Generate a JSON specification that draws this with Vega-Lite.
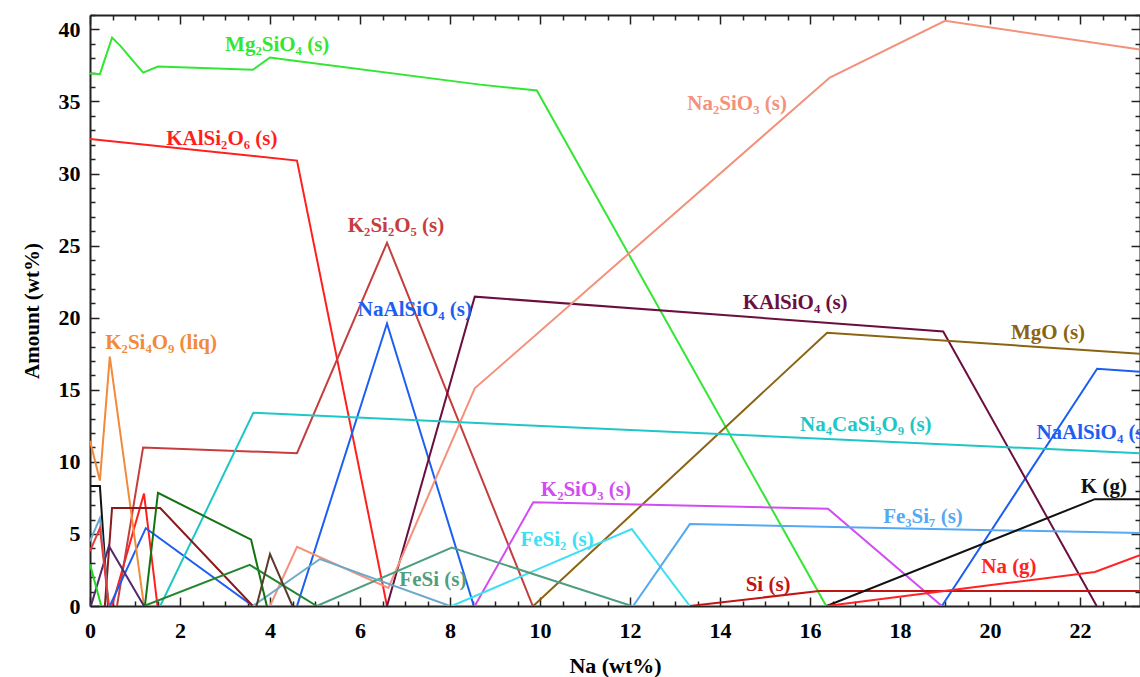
{
  "$schema": "https://vega.github.io/schema/vega-lite/v6.json",
  "width": 1050,
  "height": 591,
  "autosize": {"type": "none"},
  "padding": {"left": 90, "top": 15, "right": 0, "bottom": 71},
  "background": "white",
  "config": {"view": {"stroke": null}, "font": "Liberation Serif"},
  "datasets": {
    "lines": [
      {"s":"Mg2SiO4 (s)","g":"m1","x":0,"y":36.94},{"s":"Mg2SiO4 (s)","g":"m1","x":0.22,"y":36.9},{"s":"Mg2SiO4 (s)","g":"m1","x":0.49,"y":39.43},{"s":"Mg2SiO4 (s)","g":"m1","x":0.67,"y":38.88},{"s":"Mg2SiO4 (s)","g":"m1","x":1.18,"y":37.0},{"s":"Mg2SiO4 (s)","g":"m1","x":1.51,"y":37.42},{"s":"Mg2SiO4 (s)","g":"m1","x":3.62,"y":37.2},{"s":"Mg2SiO4 (s)","g":"m1","x":4.0,"y":38.05},{"s":"Mg2SiO4 (s)","g":"m1","x":4.5,"y":37.84},{"s":"Mg2SiO4 (s)","g":"m1","x":8.67,"y":36.17},{"s":"Mg2SiO4 (s)","g":"m1","x":9.93,"y":35.76},{"s":"Mg2SiO4 (s)","g":"m1","x":16.36,"y":0},
      {"s":"KAlSi2O6 (s)","g":"k1","x":0,"y":32.4},{"s":"KAlSi2O6 (s)","g":"k1","x":4.6,"y":30.9},{"s":"KAlSi2O6 (s)","g":"k1","x":6.6,"y":0},
      {"s":"KAlSi2O6 (s)","g":"k2","x":0.49,"y":0},{"s":"KAlSi2O6 (s)","g":"k2","x":1.2,"y":7.8},{"s":"KAlSi2O6 (s)","g":"k2","x":1.5,"y":0},
      {"s":"K2Si2O5 (s)","g":"k2s","x":0.6,"y":0},{"s":"K2Si2O5 (s)","g":"k2s","x":1.18,"y":11.0},{"s":"K2Si2O5 (s)","g":"k2s","x":4.6,"y":10.6},{"s":"K2Si2O5 (s)","g":"k2s","x":6.6,"y":25.2},{"s":"K2Si2O5 (s)","g":"k2s","x":9.84,"y":0},
      {"s":"NaAlSiO4 (s)","g":"n1","x":0.44,"y":0},{"s":"NaAlSiO4 (s)","g":"n1","x":1.24,"y":5.4},{"s":"NaAlSiO4 (s)","g":"n1","x":3.62,"y":0},
      {"s":"NaAlSiO4 (s)","g":"n2","x":4.6,"y":0},{"s":"NaAlSiO4 (s)","g":"n2","x":6.6,"y":19.6},{"s":"NaAlSiO4 (s)","g":"n2","x":8.53,"y":0},
      {"s":"NaAlSiO4 (s)","g":"n3","x":18.93,"y":0},{"s":"NaAlSiO4 (s)","g":"n3","x":22.38,"y":16.46},{"s":"NaAlSiO4 (s)","g":"n3","x":23.33,"y":16.25},
      {"s":"K2Si4O9 (liq)","g":"o1","x":0,"y":11.46},{"s":"K2Si4O9 (liq)","g":"o1","x":0.22,"y":8.7},{"s":"K2Si4O9 (liq)","g":"o1","x":0.44,"y":17.3},{"s":"K2Si4O9 (liq)","g":"o1","x":1.2,"y":0},
      {"s":"KAlSiO4 (s)","g":"ka","x":6.6,"y":0},{"s":"KAlSiO4 (s)","g":"ka","x":8.55,"y":21.46},{"s":"KAlSiO4 (s)","g":"ka","x":18.96,"y":19.05},{"s":"KAlSiO4 (s)","g":"ka","x":22.37,"y":0},
      {"s":"Na2SiO3 (s)","g":"na","x":4.0,"y":0},{"s":"Na2SiO3 (s)","g":"na","x":4.6,"y":4.1},{"s":"Na2SiO3 (s)","g":"na","x":6.63,"y":1.25},{"s":"Na2SiO3 (s)","g":"na","x":8.55,"y":15.1},{"s":"Na2SiO3 (s)","g":"na","x":16.44,"y":36.66},{"s":"Na2SiO3 (s)","g":"na","x":19.0,"y":40.6},{"s":"Na2SiO3 (s)","g":"na","x":23.33,"y":38.6},
      {"s":"MgO (s)","g":"mg","x":9.85,"y":0},{"s":"MgO (s)","g":"mg","x":16.38,"y":18.96},{"s":"MgO (s)","g":"mg","x":23.33,"y":17.5},
      {"s":"Na4CaSi3O9 (s)","g":"nc","x":1.56,"y":0},{"s":"Na4CaSi3O9 (s)","g":"nc","x":3.63,"y":13.4},{"s":"Na4CaSi3O9 (s)","g":"nc","x":23.33,"y":10.6},
      {"s":"K2SiO3 (s)","g":"ks","x":8.55,"y":0},{"s":"K2SiO3 (s)","g":"ks","x":9.85,"y":7.2},{"s":"K2SiO3 (s)","g":"ks","x":16.4,"y":6.75},{"s":"K2SiO3 (s)","g":"ks","x":18.93,"y":0},
      {"s":"FeSi2 (s)","g":"f2","x":8.04,"y":0},{"s":"FeSi2 (s)","g":"f2","x":12.04,"y":5.34},{"s":"FeSi2 (s)","g":"f2","x":13.33,"y":0},
      {"s":"FeSi (s)","g":"f1","x":5.04,"y":0},{"s":"FeSi (s)","g":"f1","x":8.04,"y":4.05},{"s":"FeSi (s)","g":"f1","x":12.04,"y":0},
      {"s":"Fe3Si7 (s)","g":"f3","x":12.07,"y":0},{"s":"Fe3Si7 (s)","g":"f3","x":13.33,"y":5.68},{"s":"Fe3Si7 (s)","g":"f3","x":23.33,"y":5.06},
      {"s":"Si (s)","g":"si","x":13.33,"y":0},{"s":"Si (s)","g":"si","x":16.2,"y":1.04},{"s":"Si (s)","g":"si","x":23.33,"y":1.04},
      {"s":"K (g)","g":"kg1","x":16.37,"y":0},{"s":"K (g)","g":"kg1","x":22.33,"y":7.41},{"s":"K (g)","g":"kg1","x":23.33,"y":7.41},
      {"s":"K (g)","g":"kg2","x":0,"y":8.33},{"s":"K (g)","g":"kg2","x":0.22,"y":8.33},{"s":"K (g)","g":"kg2","x":0.4,"y":0},
      {"s":"Na (g)","g":"ng","x":16.37,"y":0},{"s":"Na (g)","g":"ng","x":20.2,"y":1.52},{"s":"Na (g)","g":"ng","x":22.33,"y":2.36},{"s":"Na (g)","g":"ng","x":23.33,"y":3.53},
      {"s":"A","g":"a1","x":0.33,"y":0},{"s":"A","g":"a1","x":0.49,"y":6.8},{"s":"A","g":"a1","x":1.56,"y":6.8},{"s":"A","g":"a1","x":3.62,"y":0},
      {"s":"B","g":"b1","x":0,"y":4.5},{"s":"B","g":"b1","x":0.22,"y":6.1},{"s":"B","g":"b1","x":0.42,"y":0},
      {"s":"B","g":"b2","x":3.62,"y":0},{"s":"B","g":"b2","x":5.11,"y":3.26},{"s":"B","g":"b2","x":8.0,"y":0},
      {"s":"C","g":"c1","x":1.22,"y":0},{"s":"C","g":"c1","x":1.51,"y":7.85},{"s":"C","g":"c1","x":3.58,"y":4.6},{"s":"C","g":"c1","x":3.93,"y":0},
      {"s":"D","g":"d1","x":1.2,"y":0},{"s":"D","g":"d1","x":3.55,"y":2.85},{"s":"D","g":"d1","x":5.04,"y":0},
      {"s":"E","g":"e1","x":3.7,"y":0},{"s":"E","g":"e1","x":4.0,"y":3.6},{"s":"E","g":"e1","x":4.5,"y":0},
      {"s":"F","g":"p1","x":0.02,"y":0},{"s":"F","g":"p1","x":0.42,"y":4.16},{"s":"F","g":"p1","x":1.2,"y":0},
      {"s":"G","g":"g1","x":0,"y":2.9},{"s":"G","g":"g1","x":0.25,"y":0},
      {"s":"H","g":"h1","x":0,"y":3.8},{"s":"H","g":"h1","x":0.22,"y":5.4},{"s":"H","g":"h1","x":0.42,"y":0}
    ],
    "labels": [
      {"s":"Mg2SiO4 (s)","t":"Mg₂SiO₄ (s)","x":4.16,"y":38.95},
      {"s":"KAlSi2O6 (s)","t":"KAlSi₂O₆ (s)","x":2.93,"y":32.43},
      {"s":"K2Si2O5 (s)","t":"K₂Si₂O₅ (s)","x":6.8,"y":26.33},
      {"s":"Na2SiO3 (s)","t":"Na₂SiO₃ (s)","x":14.38,"y":34.86},
      {"s":"NaAlSiO4 (s)","t":"NaAlSiO₄ (s)","x":7.22,"y":20.51},
      {"s":"KAlSiO4 (s)","t":"KAlSiO₄ (s)","x":15.67,"y":21.0},
      {"s":"MgO (s)","t":"MgO (s)","x":21.29,"y":18.92},
      {"s":"K2Si4O9 (liq)","t":"K₂Si₄O₉ (liq)","x":1.58,"y":18.23},
      {"s":"Na4CaSi3O9 (s)","t":"Na₄CaSi₃O₉ (s)","x":17.24,"y":12.54},
      {"s":"NaAlSiO4 (s)","t":"NaAlSiO₄ (s)","x":22.3,"y":11.99},
      {"s":"K2SiO3 (s)","t":"K₂SiO₃ (s)","x":11.02,"y":8.04},
      {"s":"FeSi2 (s)","t":"FeSi₂ (s)","x":10.38,"y":4.57},
      {"s":"Fe3Si7 (s)","t":"Fe₃Si₇ (s)","x":18.51,"y":6.17},
      {"s":"K (g)","t":"K (g)","x":22.53,"y":8.25},
      {"s":"Na (g)","t":"Na (g)","x":20.42,"y":2.7},
      {"s":"Si (s)","t":"Si (s)","x":15.07,"y":1.46},
      {"s":"FeSi (s)","t":"FeSi (s)","x":7.62,"y":1.8}
    ]
  },
  "layer": [
    {
      "data": {"name": "lines"},
      "mark": {"type": "line", "strokeWidth": 2, "clip": true},
      "encoding": {
        "x": {"field": "x", "type": "quantitative",
          "scale": {"domain": [0, 23.333], "nice": false, "zero": false},
          "axis": {"orient": "bottom", "grid": false,
            "values": [0,0.5,1,1.5,2,2.5,3,3.5,4,4.5,5,5.5,6,6.5,7,7.5,8,8.5,9,9.5,10,10.5,11,11.5,12,12.5,13,13.5,14,14.5,15,15.5,16,16.5,17,17.5,18,18.5,19,19.5,20,20.5,21,21.5,22,22.5,23],
            "labelExpr": "datum.value % 2 === 0 ? format(datum.value, 'd') : ''",
            "tickSize": {"condition": {"test": "datum.value % 2 === 0", "value": -9}, "value": -5},
            "tickWidth": 1.5, "tickColor": "#222222", "domainColor": "#222222", "domainWidth": 2,
            "labelFont": "Liberation Serif", "labelFontWeight": "bold", "labelFontSize": 22, "labelColor": "black",
            "labelPadding": 23, "labelFlush": false, "labelOverlap": false,
            "title": "Na (wt%)", "titleFont": "Liberation Serif", "titleFontWeight": "bold", "titleFontSize": 22, "titleColor": "black", "titlePadding": 10}
        },
        "y": {"field": "y", "type": "quantitative",
          "scale": {"domain": [0, 41], "nice": false},
          "axis": {"orient": "left", "grid": false,
            "values": [0,1,2,3,4,5,6,7,8,9,10,11,12,13,14,15,16,17,18,19,20,21,22,23,24,25,26,27,28,29,30,31,32,33,34,35,36,37,38,39,40,41],
            "labelExpr": "datum.value % 5 === 0 ? format(datum.value, 'd') : ''",
            "tickSize": {"condition": {"test": "datum.value % 5 === 0", "value": -9}, "value": -5},
            "tickWidth": 1.5, "tickColor": "#222222", "domainColor": "#222222", "domainWidth": 2,
            "labelFont": "Liberation Serif", "labelFontWeight": "bold", "labelFontSize": 22, "labelColor": "black",
            "labelPadding": 19, "labelFlush": false, "labelOverlap": false,
            "title": "Amount (wt%)", "titleFont": "Liberation Serif", "titleFontWeight": "bold", "titleFontSize": 21, "titleColor": "black", "titlePadding": 16}
        },
        "color": {"field": "s", "type": "nominal", "legend": null,
          "scale": {
            "domain": ["Mg2SiO4 (s)","KAlSi2O6 (s)","K2Si2O5 (s)","NaAlSiO4 (s)","K2Si4O9 (liq)","KAlSiO4 (s)","Na2SiO3 (s)","MgO (s)","Na4CaSi3O9 (s)","K2SiO3 (s)","FeSi2 (s)","FeSi (s)","Fe3Si7 (s)","Si (s)","K (g)","Na (g)","A","B","C","D","E","F","G","H"],
            "range": ["#33e633","#ff1f1f","#c63d3d","#1d5ef2","#f28a3a","#6b0f3f","#f4917b","#8a6412","#1fc6c6","#d24cf2","#3ddff2","#4f9e7f","#55a9f2","#c21414","#111111","#ff2424","#8b1a1a","#6caac8","#137313","#23862f","#5a3b2a","#53286e","#22d622","#e53a3a"]
          }
        },
        "detail": {"field": "g", "type": "nominal"}
      }
    },
    {
      "data": {"name": "labels"},
      "mark": {"type": "text", "font": "Liberation Serif", "fontWeight": "bold", "fontSize": 21, "align": "center", "baseline": "middle"},
      "encoding": {
        "x": {"field": "x", "type": "quantitative",
          "axis": {"orient": "top", "grid": false, "labels": false, "title": null,
            "values": [0,0.5,1,1.5,2,2.5,3,3.5,4,4.5,5,5.5,6,6.5,7,7.5,8,8.5,9,9.5,10,10.5,11,11.5,12,12.5,13,13.5,14,14.5,15,15.5,16,16.5,17,17.5,18,18.5,19,19.5,20,20.5,21,21.5,22,22.5,23],
            "tickSize": {"condition": {"test": "datum.value % 2 === 0", "value": -9}, "value": -5},
            "tickWidth": 1.5, "tickColor": "#222222", "domainColor": "#222222", "domainWidth": 2}
        },
        "y": {"field": "y", "type": "quantitative",
          "axis": {"orient": "right", "grid": false, "labels": false, "title": null,
            "values": [0,1,2,3,4,5,6,7,8,9,10,11,12,13,14,15,16,17,18,19,20,21,22,23,24,25,26,27,28,29,30,31,32,33,34,35,36,37,38,39,40,41],
            "tickSize": {"condition": {"test": "datum.value % 5 === 0", "value": -9}, "value": -5},
            "tickWidth": 1.5, "tickColor": "#222222", "domainColor": "#222222", "domainWidth": 2}
        },
        "text": {"field": "t", "type": "nominal"},
        "color": {"field": "s", "type": "nominal", "legend": null}
      }
    }
  ],
  "resolve": {"axis": {"x": "independent", "y": "independent"}}
}
